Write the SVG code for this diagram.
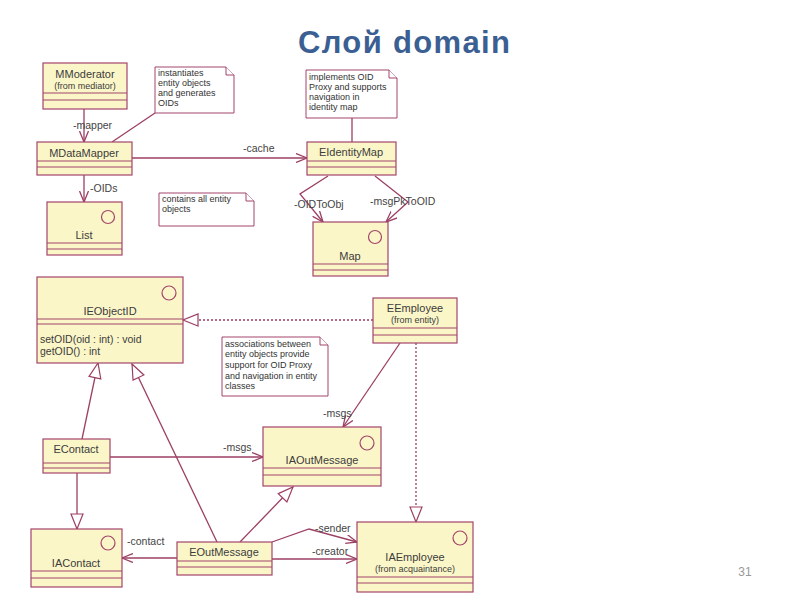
<svg xmlns="http://www.w3.org/2000/svg" width="800" height="600" viewBox="0 0 800 600">
<style>
.box{fill:#fbf6c8;stroke:#a3456b;stroke-width:1.2}
.sep{stroke:#a3456b;stroke-width:1.2}
.ic{fill:none;stroke:#a3456b;stroke-width:1.2}
.nt{fill:#ffffff;stroke:#a3456b;stroke-width:1}
.ln{fill:none;stroke:#9c3f63;stroke-width:1.3}
.dl{fill:none;stroke:#9c3f63;stroke-width:1.3;stroke-dasharray:2,2}
.nm{font-family:"Liberation Sans",Arial,sans-serif;font-size:11px;fill:#3c3c3c;text-anchor:middle}
.sub{font-family:"Liberation Sans",Arial,sans-serif;font-size:9px;fill:#3c3c3c;text-anchor:middle}
.op{font-family:"Liberation Sans",Arial,sans-serif;font-size:10.5px;fill:#3c3c3c}
.lb{font-family:"Liberation Sans",Arial,sans-serif;font-size:10.5px;fill:#444}
.nx{font-family:"Liberation Sans",Arial,sans-serif;font-size:9px;fill:#333}
</style>
<defs>
<marker id="arr" viewBox="0 0 12 10" refX="11" refY="5" markerWidth="12" markerHeight="10" orient="auto" markerUnits="userSpaceOnUse"><path d="M0,0.5 L11,5 L0,9.5" fill="none" stroke="#9c3f63" stroke-width="1.3"/></marker>
<marker id="tri" viewBox="0 0 17 14" refX="16" refY="7" markerWidth="17" markerHeight="14" orient="auto" markerUnits="userSpaceOnUse"><path d="M1,1 L16,7 L1,13 Z" fill="#ffffff" stroke="#9c3f63" stroke-width="1.2"/></marker>
</defs>
<rect width="800" height="600" fill="#ffffff"/>
<text x="404" y="53" text-anchor="middle" font-family="'Liberation Sans',Arial,sans-serif" font-size="31" font-weight="bold" fill="#3b5f93" textLength="212" lengthAdjust="spacing">Слой domain</text>
<text x="745" y="576" text-anchor="middle" font-family="'Liberation Sans',Arial,sans-serif" font-size="12" fill="#999">31</text>

<g id="connectors">
<path class="ln" d="M84,109 L84,142" marker-end="url(#arr)"/>
<text class="lb" x="73" y="129">-mapper</text>
<path class="ln" d="M155,113 L112,142"/>
<path class="ln" d="M132,158 L307,158" marker-end="url(#arr)"/>
<text class="lb" x="243" y="152">-cache</text>
<path class="ln" d="M84,175 L84,202" marker-end="url(#arr)"/>
<text class="lb" x="90" y="192">-OIDs</text>
<path class="ln" d="M352,118 L352,142"/>
<path class="ln" d="M328,176 L300,194 L323,222" marker-end="url(#arr)"/>
<path class="ln" d="M375,176 L408,202 L386,222" marker-end="url(#arr)"/>
<text class="lb" x="294" y="208">-OIDToObj</text>
<text class="lb" x="370" y="205">-msgPkToOID</text>
<path class="dl" d="M373,320 L183,320" marker-end="url(#tri)"/>
<path class="ln" d="M400,343 L343,427" marker-end="url(#arr)"/>
<text class="lb" x="323" y="417">-msgs</text>
<path class="dl" d="M416,343 L416,522" marker-end="url(#tri)"/>
<path class="ln" d="M110,457 L263,457" marker-end="url(#arr)"/>
<text class="lb" x="223" y="451">-msgs</text>
<path class="ln" d="M77,473 L77,529" marker-end="url(#tri)"/>
<path class="ln" d="M82,439 L98,363" marker-end="url(#tri)"/>
<path class="ln" d="M217,542 L132,364" marker-end="url(#tri)"/>
<path class="ln" d="M240,542 L293,487" marker-end="url(#tri)"/>
<path class="ln" d="M177,558 L122,558" marker-end="url(#arr)"/>
<text class="lb" x="127" y="545">-contact</text>
<path class="ln" d="M272,542 L309,529 L357,542" marker-end="url(#arr)"/>
<text class="lb" x="315" y="532">-sender</text>
<path class="ln" d="M272,559 L357,559" marker-end="url(#arr)"/>
<text class="lb" x="312" y="555">-creator</text>
</g>

<g id="MModerator">
<rect class="box" x="43" y="63" width="84" height="46"/>
<line class="sep" x1="43" y1="93" x2="127" y2="93"/>
<line class="sep" x1="43" y1="100" x2="127" y2="100"/>
<text class="nm" x="85" y="78">MModerator</text>
<text class="sub" x="85" y="89">(from mediator)</text>
</g>

<g id="note1">
<path class="nt" d="M155,67 L226,67 L234,75 L234,113 L155,113 Z"/>
<path class="nt" d="M226,67 L226,75 L234,75"/>
<text class="nx" x="158" y="76">instantiates</text>
<text class="nx" x="158" y="86">entity objects</text>
<text class="nx" x="158" y="96">and generates</text>
<text class="nx" x="158" y="106">OIDs</text>
</g>

<g id="MDataMapper">
<rect class="box" x="37" y="142" width="95" height="33"/>
<line class="sep" x1="37" y1="161" x2="132" y2="161"/>
<line class="sep" x1="37" y1="167" x2="132" y2="167"/>
<text class="nm" x="84" y="157">MDataMapper</text>
</g>

<g id="List">
<rect class="box" x="47" y="202" width="75" height="53"/>
<line class="sep" x1="47" y1="243" x2="122" y2="243"/>
<line class="sep" x1="47" y1="249" x2="122" y2="249"/>
<circle class="ic" cx="108" cy="217" r="6.5"/>
<text class="nm" x="84" y="239">List</text>
</g>

<g id="note2">
<path class="nt" d="M159,193 L246,193 L254,201 L254,226 L159,226 Z"/>
<path class="nt" d="M246,193 L246,201 L254,201"/>
<text class="nx" x="162" y="202">contains all entity</text>
<text class="nx" x="162" y="212">objects</text>
</g>

<g id="note3">
<path class="nt" d="M306,70 L389,70 L397,78 L397,118 L306,118 Z"/>
<path class="nt" d="M389,70 L389,78 L397,78"/>
<text class="nx" x="309" y="80">implements OID</text>
<text class="nx" x="309" y="90">Proxy and supports</text>
<text class="nx" x="309" y="100">navigation in</text>
<text class="nx" x="309" y="110">identity map</text>
</g>

<g id="EIdentityMap">
<rect class="box" x="307" y="142" width="89" height="33"/>
<line class="sep" x1="307" y1="161" x2="396" y2="161"/>
<line class="sep" x1="307" y1="167" x2="396" y2="167"/>
<text class="nm" x="351" y="156">EIdentityMap</text>
</g>

<g id="Map">
<rect class="box" x="313" y="222" width="75" height="54"/>
<line class="sep" x1="313" y1="264" x2="388" y2="264"/>
<line class="sep" x1="313" y1="270" x2="388" y2="270"/>
<circle class="ic" cx="375" cy="237" r="6.5"/>
<text class="nm" x="350" y="260">Map</text>
</g>

<g id="IEObjectID">
<rect class="box" x="37" y="277" width="146" height="86"/>
<line class="sep" x1="37" y1="319" x2="183" y2="319"/>
<line class="sep" x1="37" y1="324" x2="183" y2="324"/>
<circle class="ic" cx="169" cy="293" r="7"/>
<text class="nm" x="110" y="315">IEObjectID</text>
<text class="op" x="40" y="343">setOID(oid : int) : void</text>
<text class="op" x="40" y="355">getOID() : int</text>
</g>

<g id="EEmployee">
<rect class="box" x="373" y="298" width="84" height="45"/>
<line class="sep" x1="373" y1="328" x2="457" y2="328"/>
<line class="sep" x1="373" y1="335" x2="457" y2="335"/>
<text class="nm" x="415" y="312">EEmployee</text>
<text class="sub" x="415" y="323">(from entity)</text>
</g>

<g id="note4">
<path class="nt" d="M222,337 L320,337 L328,345 L328,396 L222,396 Z"/>
<path class="nt" d="M320,337 L320,345 L328,345"/>
<text class="nx" x="225" y="347">associations between</text>
<text class="nx" x="225" y="357">entity objects provide</text>
<text class="nx" x="225" y="368">support for OID Proxy</text>
<text class="nx" x="225" y="379">and navigation in entity</text>
<text class="nx" x="225" y="389">classes</text>
</g>

<g id="IAOutMessage">
<rect class="box" x="263" y="427" width="118" height="59"/>
<line class="sep" x1="263" y1="468" x2="381" y2="468"/>
<line class="sep" x1="263" y1="475" x2="381" y2="475"/>
<circle class="ic" cx="367" cy="443" r="7"/>
<text class="nm" x="322" y="464">IAOutMessage</text>
</g>

<g id="EContact">
<rect class="box" x="43" y="439" width="67" height="34"/>
<line class="sep" x1="43" y1="463" x2="110" y2="463"/>
<line class="sep" x1="43" y1="468" x2="110" y2="468"/>
<text class="nm" x="76" y="453">EContact</text>
</g>

<g id="IAContact">
<rect class="box" x="31" y="529" width="91" height="58"/>
<line class="sep" x1="31" y1="571" x2="122" y2="571"/>
<line class="sep" x1="31" y1="578" x2="122" y2="578"/>
<circle class="ic" cx="108" cy="543" r="7"/>
<text class="nm" x="76" y="567">IAContact</text>
</g>

<g id="EOutMessage">
<rect class="box" x="177" y="542" width="95" height="33"/>
<line class="sep" x1="177" y1="561" x2="272" y2="561"/>
<line class="sep" x1="177" y1="567" x2="272" y2="567"/>
<text class="nm" x="224" y="556">EOutMessage</text>
</g>

<g id="IAEmployee">
<rect class="box" x="357" y="522" width="116" height="70"/>
<line class="sep" x1="357" y1="577" x2="473" y2="577"/>
<line class="sep" x1="357" y1="583" x2="473" y2="583"/>
<circle class="ic" cx="460" cy="538" r="7"/>
<text class="nm" x="415" y="561">IAEmployee</text>
<text class="sub" x="415" y="572">(from acquaintance)</text>
</g>
</svg>
